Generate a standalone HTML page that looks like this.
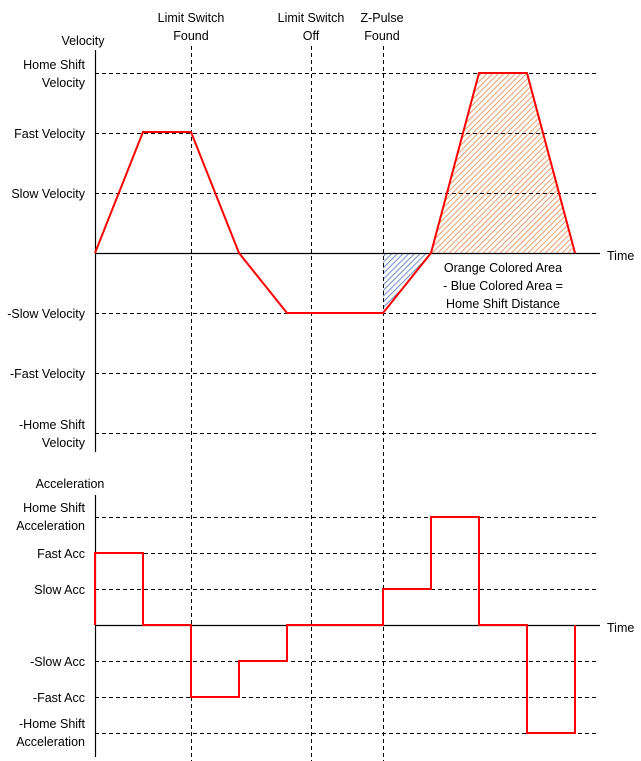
<!DOCTYPE html>
<html><head><meta charset="utf-8"><style>
html,body{margin:0;padding:0;background:#fff;}
svg{display:block;}
text{font-family:"Liberation Sans",sans-serif;font-size:12.5px;fill:#000;}
</style></head><body>
<svg width="641" height="761" viewBox="0 0 641 761" xmlns="http://www.w3.org/2000/svg">
<defs>
<pattern id="bl" width="4" height="4" patternUnits="userSpaceOnUse" patternTransform="rotate(45)">
<rect width="4" height="4" fill="#fff"/><line x1="0" y1="0" x2="0" y2="4" stroke="#4a72b8" stroke-width="1.6"/></pattern>
<pattern id="or" width="4" height="4" patternUnits="userSpaceOnUse" patternTransform="rotate(45)">
<rect width="4" height="4" fill="#fff"/><line x1="0" y1="0" x2="0" y2="4" stroke="#e0874a" stroke-width="1.6"/></pattern>
</defs>
<polygon points="383,253 431,253 383,313" fill="url(#bl)"/>
<polygon points="431,253 479,73 527,73 575,253" fill="url(#or)"/>
<g stroke="#000" stroke-width="1" stroke-dasharray="4,3" fill="none">
<line x1="95" y1="73.5" x2="598" y2="73.5"/>
<line x1="95" y1="133.5" x2="598" y2="133.5"/>
<line x1="95" y1="193.5" x2="598" y2="193.5"/>
<line x1="95" y1="313.5" x2="598" y2="313.5"/>
<line x1="95" y1="373.5" x2="598" y2="373.5"/>
<line x1="95" y1="433.5" x2="598" y2="433.5"/>
<line x1="95" y1="517.5" x2="598" y2="517.5"/>
<line x1="95" y1="553.5" x2="598" y2="553.5"/>
<line x1="95" y1="589.5" x2="598" y2="589.5"/>
<line x1="95" y1="661.5" x2="598" y2="661.5"/>
<line x1="95" y1="697.5" x2="598" y2="697.5"/>
<line x1="95" y1="733.5" x2="598" y2="733.5"/>
<line x1="191.5" y1="46" x2="191.5" y2="761"/>
<line x1="311.5" y1="46" x2="311.5" y2="761"/>
<line x1="383.5" y1="46" x2="383.5" y2="761"/>
</g>
<g stroke="#000" stroke-width="1.2">
<line x1="95.5" y1="50" x2="95.5" y2="452"/>
<line x1="95" y1="253.5" x2="600" y2="253.5"/>
<line x1="95.5" y1="495" x2="95.5" y2="757"/>
<line x1="95" y1="625.5" x2="600" y2="625.5"/>
</g>
<polyline points="95,253 143,132 191,132 239,253 287,313 383,313 431,253 479,73 527,73 575,253" fill="none" stroke="#f00" stroke-width="2"/>
<polyline points="95,625 95,553 143,553 143,625 191,625 191,697 239,697 239,661 287,661 287,625 383,625 383,589 431,589 431,517 479,517 479,625 527,625 527,733 575,733 575,625" fill="none" stroke="#f00" stroke-width="2"/>
<g text-anchor="middle">
<text x="191" y="22">Limit Switch</text><text x="191" y="40">Found</text>
<text x="311" y="22">Limit Switch</text><text x="311" y="40">Off</text>
<text x="382" y="22">Z-Pulse</text><text x="382" y="40">Found</text>
<text x="83" y="45">Velocity</text>
<text x="70" y="488">Acceleration</text>
<text x="503" y="272">Orange Colored Area</text>
<text x="503" y="290">- Blue Colored Area =</text>
<text x="503" y="308">Home Shift Distance</text>
</g>
<text x="607" y="260">Time</text>
<text x="607" y="632">Time</text>
<g text-anchor="end">
<text x="85" y="69">Home Shift</text><text x="85" y="87">Velocity</text>
<text x="85" y="138">Fast Velocity</text>
<text x="85" y="198">Slow Velocity</text>
<text x="85" y="318">-Slow Velocity</text>
<text x="85" y="378">-Fast Velocity</text>
<text x="85" y="429">-Home Shift</text><text x="85" y="447">Velocity</text>
<text x="85" y="512">Home Shift</text><text x="85" y="530">Acceleration</text>
<text x="85" y="558">Fast Acc</text>
<text x="85" y="594">Slow Acc</text>
<text x="85" y="666">-Slow Acc</text>
<text x="85" y="702">-Fast Acc</text>
<text x="85" y="728">-Home Shift</text><text x="85" y="746">Acceleration</text>
</g>
</svg>
</body></html>
